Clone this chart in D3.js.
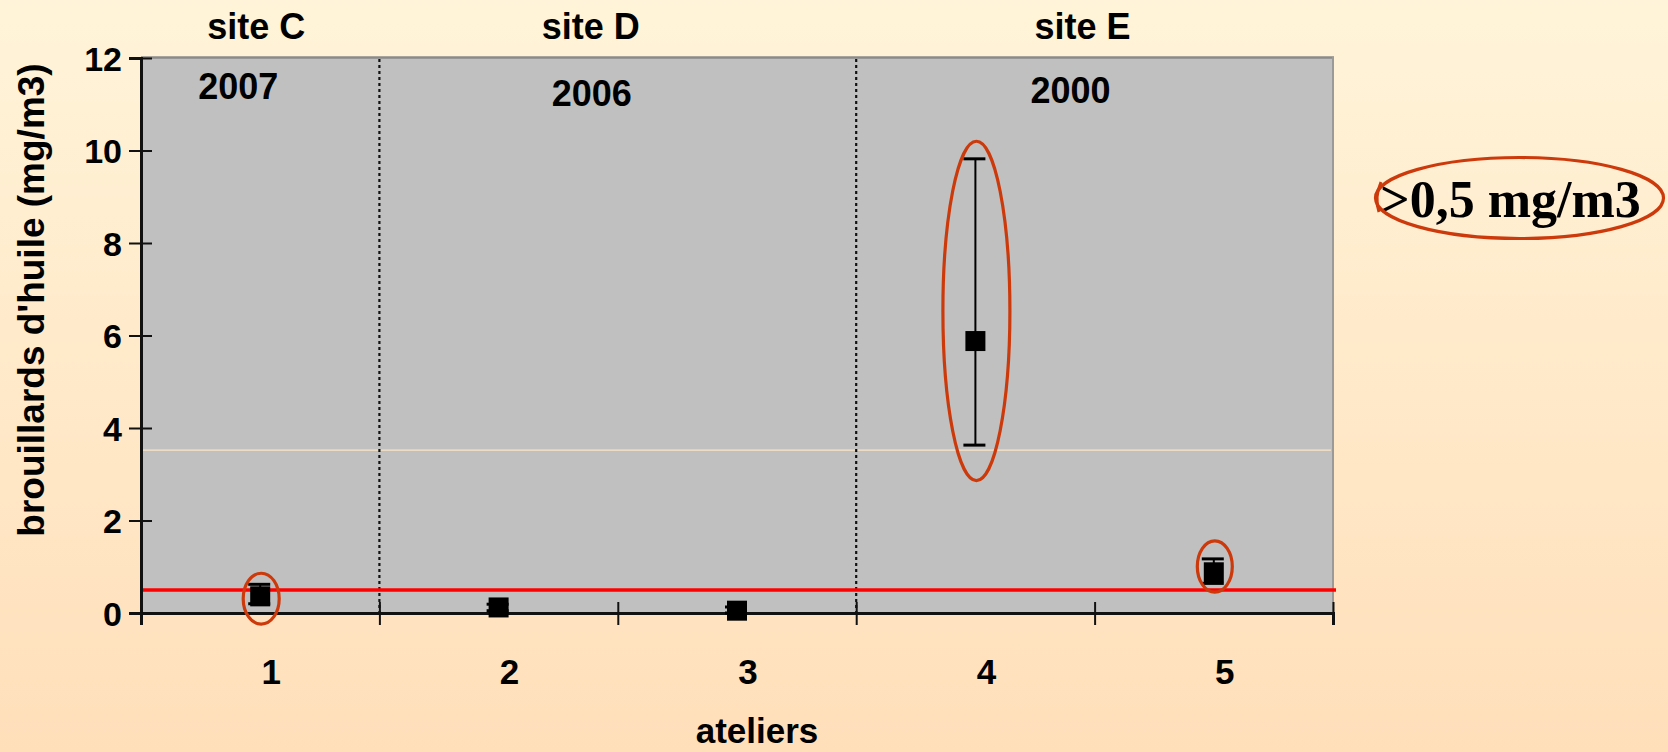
<!DOCTYPE html>
<html><head><meta charset="utf-8">
<script src="https://cdn.jsdelivr.net/npm/d3@7"></script>
<style>html,body{margin:0;padding:0;overflow:hidden;}svg{display:block;}</style>
</head><body>
<svg id="c" width="1668" height="752"></svg>
<script>
// ---- data ----
const categories = ["1", "2", "3", "4", "5"];
const means      = [0.36, 0.12, 0.05, 5.88, 0.88];
const errLow     = [0.20, 0.05, 0.00, 3.63, 0.64];
const errHigh    = [0.62, 0.19, 0.13, 9.82, 1.17];
const yTicks     = [0, 2, 4, 6, 8, 10, 12];
const sites      = ["site C", "site D", "site E"];
const siteYears  = ["2007", "2006", "2000"];
const siteFirst  = [1, 2, 4];   // first atelier of each site
const siteLast   = [1, 3, 5];   // last atelier of each site
const threshold  = 0.5;
const refLine    = 3.52;
const circled    = [1, 4, 5];
const circleLo   = [-0.24, 2.86, 0.45];
const circleHi   = [0.86, 10.2, 1.56];
const thresholdLabel = ">0,5 mg/m3";
const xTitle = "ateliers";
const yTitle = "brouillards d'huile (mg/m3)";

// ---- layout ----
const svg = d3.select("#c");
const L = 141, R = 1333, T = 58, B = 613;
const FONT = "'Liberation Sans', Arial, sans-serif";
const RED = "#cc3a0c";

const defs = svg.append("defs");
const g = defs.append("linearGradient").attr("id","bg").attr("x1",0).attr("y1",0).attr("x2",0).attr("y2",1);
g.append("stop").attr("offset","0%").attr("stop-color","#fff4d9");
g.append("stop").attr("offset","100%").attr("stop-color","#ffdfba");
svg.append("rect").attr("width",1668).attr("height",752).attr("fill","url(#bg)");

const x = d3.scaleLinear().domain([0.5, categories.length + 0.5]).range([L, R]);
const y = d3.scaleLinear().domain([0, 12]).range([B, T]);

// plot area
svg.append("rect").attr("x",L).attr("y",T).attr("width",R-L).attr("height",B-T).attr("fill","#c0c0c0");
svg.append("line").attr("x1",L).attr("x2",R+1).attr("y1",T-0.5).attr("y2",T-0.5).attr("stroke","#8a8a8a").attr("stroke-width",2.5);
svg.append("line").attr("x1",R).attr("x2",R).attr("y1",T-1).attr("y2",B).attr("stroke","#9a9a9a").attr("stroke-width",2);

// faint reference line
svg.append("line").attr("x1",L).attr("x2",R-2).attr("y1",y(refLine)).attr("y2",y(refLine))
  .attr("stroke","#fbe6c4").attr("stroke-width",1.2);

// dotted separators between sites
siteLast.slice(0,-1).forEach(v=>{
  svg.append("line").attr("x1",x(v+0.5)).attr("x2",x(v+0.5)).attr("y1",T+1).attr("y2",B)
    .attr("stroke","#111").attr("stroke-width",2.2).attr("stroke-dasharray","3,3");
});

// threshold line
svg.append("line").attr("x1",L).attr("x2",R+3).attr("y1",y(threshold)).attr("y2",y(threshold))
  .attr("stroke","#ff0000").attr("stroke-width",3.5);

// x axis
const xTickVals = d3.range(0, categories.length + 1).map(i => i + 0.5);
const xAxis = svg.append("g").attr("transform",`translate(0,${B})`)
  .call(d3.axisBottom(x).tickValues(xTickVals).tickFormat("").tickSizeOuter(0).tickSize(12));
xAxis.select(".domain").attr("stroke","#111").attr("stroke-width",3);
xAxis.selectAll(".tick line").attr("y1",-11).attr("y2",12).attr("stroke","#111").attr("stroke-width",2);

svg.append("g").selectAll("text").data(categories).join("text")
  .attr("x",(d,i)=>x(i+1)+11).attr("y",684).attr("text-anchor","middle")
  .attr("font-family",FONT).attr("font-weight","bold").attr("font-size",35).attr("fill","#000")
  .text(d=>d);

// y axis
const yAxis = svg.append("g").attr("transform",`translate(${L},0)`)
  .call(d3.axisLeft(y).tickValues(yTicks).tickSizeOuter(0).tickSize(12).tickPadding(8));
yAxis.select(".domain").attr("stroke","#111").attr("stroke-width",3);
yAxis.selectAll(".tick line").attr("x1",-12).attr("x2",11).attr("stroke","#111").attr("stroke-width",2);
yAxis.selectAll(".tick text").attr("x",-19).attr("font-family",FONT).attr("font-weight","bold")
  .attr("font-size",34).attr("fill","#000").attr("dy","0.36em");

// axis titles
svg.append("text").attr("x",757).attr("y",743).attr("text-anchor","middle")
  .attr("font-family",FONT).attr("font-weight","bold").attr("font-size",35).text(xTitle);
svg.append("text").attr("transform","translate(44,300) rotate(-90)").attr("text-anchor","middle")
  .attr("font-family",FONT).attr("font-weight","bold").attr("font-size",37).text(yTitle);

// site names and years
const siteOff = [-4, -27, -12], yearOff = [-22, -26, -24], yearBase = [99, 106, 103];
sites.forEach((s,i)=>{
  const cx = (x(siteFirst[i]-0.5) + x(siteLast[i]+0.5))/2;
  svg.append("text").attr("x",cx+siteOff[i]).attr("y",39).attr("text-anchor","middle")
    .attr("font-family",FONT).attr("font-weight","bold").attr("font-size",36).text(s);
  svg.append("text").attr("x",cx+yearOff[i]).attr("y",yearBase[i]).attr("text-anchor","middle")
    .attr("font-family",FONT).attr("font-weight","bold").attr("font-size",36).text(siteYears[i]);
});

// error bars + points
const pts = svg.append("g");
categories.forEach((c,i)=>{
  const cx = x(i+1);
  pts.append("line").attr("x1",cx).attr("x2",cx).attr("y1",y(errLow[i])).attr("y2",y(errHigh[i]))
    .attr("stroke","#000").attr("stroke-width",2);
  [errLow[i], errHigh[i]].forEach(v=>{
    pts.append("line").attr("x1",cx-12).attr("x2",cx+10).attr("y1",y(v)).attr("y2",y(v))
      .attr("stroke","#000").attr("stroke-width",3);
  });
  pts.append("rect").attr("x",cx-10).attr("y",y(means[i])-10).attr("width",20).attr("height",20).attr("fill","#000");
});

// circled annotations
const halfW = {1:18, 4:33.5, 5:17.5};
circled.forEach((c,k)=>{
  const cy = (y(circleLo[k]) + y(circleHi[k]))/2;
  const ry = (y(circleLo[k]) - y(circleHi[k]))/2;
  svg.append("ellipse").attr("cx",x(c)+1).attr("cy",cy).attr("rx",halfW[c]).attr("ry",ry)
    .attr("fill","none").attr("stroke",RED).attr("stroke-width",3.2);
});

// legend-like annotation
svg.append("text").attr("x",1380).attr("y",217).attr("font-family","'Liberation Serif','Times New Roman',serif")
  .attr("font-weight","bold").attr("font-size",52).attr("fill","#000").text(thresholdLabel);
svg.append("ellipse").attr("cx",1519.5).attr("cy",198).attr("rx",144).attr("ry",40.5)
  .attr("fill","none").attr("stroke",RED).attr("stroke-width",3.2);
svg.append("path").attr("d","M1381,182 Q1374,198 1379,212").attr("fill","none").attr("stroke",RED).attr("stroke-width",3);
</script>
</body></html>
